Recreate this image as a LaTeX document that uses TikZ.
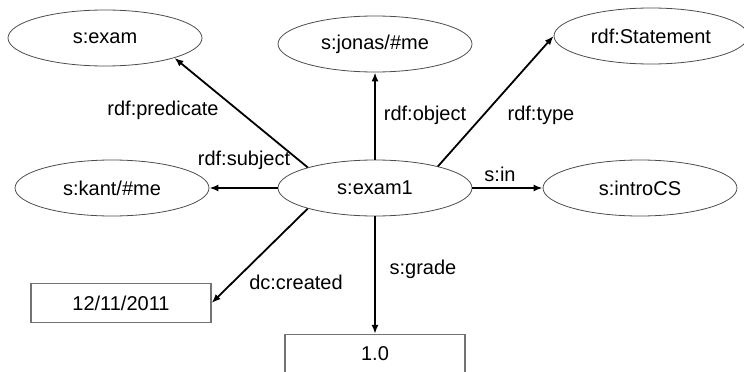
\documentclass[tikz,border=0pt]{standalone}
\usepackage{fontspec}
\setmainfont{Liberation Sans}
\usetikzlibrary{shapes.geometric,arrows.meta}
\begin{document}
\begin{tikzpicture}[x=1pt,y=-1pt,
  txt/.style={font=\fontsize{20}{24}\selectfont},
  res/.style={ellipse,draw=black!70,line width=0.8pt,minimum width=194pt,minimum height=56pt,inner sep=0pt,txt},
  lit/.style={rectangle,draw=black!55,line width=1.3pt,minimum width=180pt,minimum height=39pt,inner sep=0pt,txt},
  prop/.style={draw,line width=1.8pt,-{Latex[length=9pt,width=7pt]}},
  lab/.style={inner sep=0pt,txt}]
\useasboundingbox (0,0) rectangle (744,372);

% resources
\node[res] (exam1) at (375,188) {s:exam1};
\node[res] (exam) at (105,38) {s:exam};
\node[res] (jonas) at (375,44) {s:jonas/\#me};
\node[res] (stmt) at (651,36) {rdf:Statement};
\node[res] (kant) at (112,188) {s:kant/\#me};
\node[res] (intro) at (640,188) {s:introCS};

% literals
\node[lit] (date) at (121,303) {12/11/2011};
\node[lit] (grade) at (375,354) {1.0};

% properties
\draw[prop] (exam1.163) -- (exam.344);
\draw[prop] (exam1.north) -- (jonas.south);
\draw[prop] (exam1.19) -- (stmt.west);
\draw[prop] (exam1.west) -- (kant.east);
\draw[prop] (exam1.east) -- (intro.west);
\draw[prop] (exam1.197) -- (date.east);
\draw[prop] (exam1.south) -- (grade.north);

% property labels
\node[lab] (lpred) at (163,110) {rdf:predicate};
\node[lab] (lsubj) at (244,160) {rdf:subject};
\node[lab] (lobj) at (425,115) {rdf:object};
\node[lab] (ltype) at (541,115) {rdf:type};
\node[lab] (lin) at (500,174) {s:in};
\node[lab] (lgrade) at (423,269) {s:grade};
\node[lab] (ldc) at (296,282) {dc:created};
\end{tikzpicture}
\end{document}
